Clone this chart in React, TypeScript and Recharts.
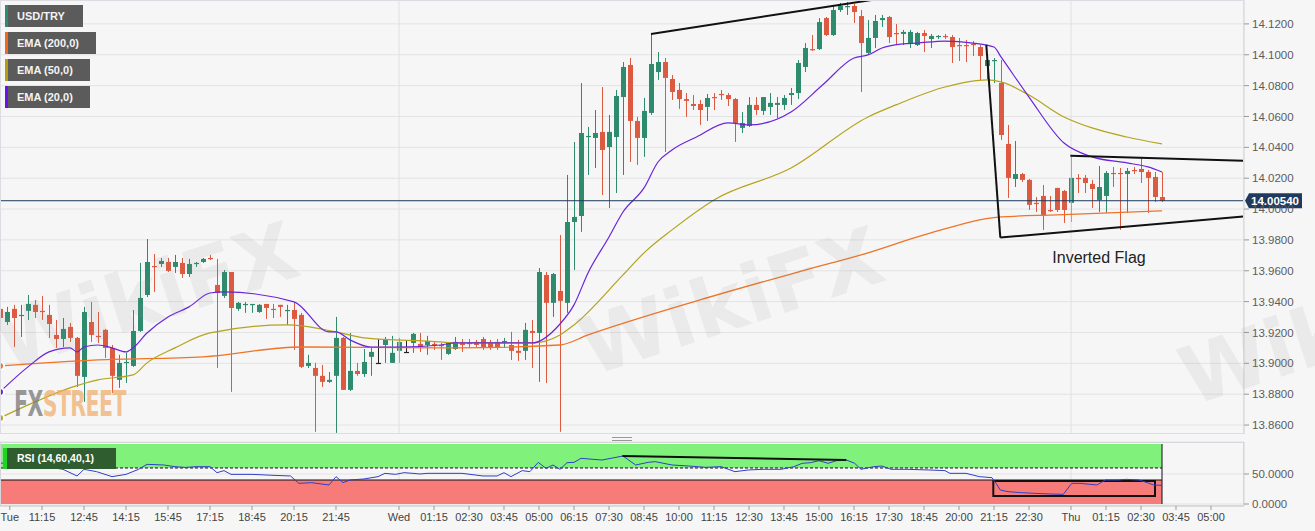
import React from "react";
import {
  Bar,
  CartesianGrid,
  ComposedChart,
  Line,
  ReferenceArea,
  ReferenceDot,
  ReferenceLine,
  XAxis,
  YAxis,
} from "recharts";

const FONT = "'Liberation Sans', Arial, sans-serif";
const UP = "#2f8b6e";
const DOWN = "#dc5a40";
const FLAT = "#222222";

// USD/TRY 15-minute candles, Tue 09:45 -> Thu 03:15 (index = candle number)
const opens = [
  13.9353, 13.9268, 13.9353, 13.9307, 13.934, 13.9379, 13.934, 13.9314, 13.9184, 13.9158,
  13.9236, 13.9165, 13.8912, 13.9268, 13.9178, 13.9217, 13.91, 13.8893, 13.9003, 13.8983,
  13.921, 13.9443, 13.9631, 13.9644, 13.9657, 13.9625, 13.9651, 13.9579, 13.9644, 13.9657,
  13.9683, 13.9508, 13.9437, 13.9592, 13.9353, 13.9379, 13.9379, 13.9333, 13.9385, 13.9353,
  13.9379, 13.934, 13.9346, 13.9314, 13.8983, 13.897, 13.8919, 13.888, 13.8919, 13.9165,
  13.8828, 13.8951, 13.8931, 13.9042, 13.9003, 13.9119, 13.9003, 13.9081, 13.9074, 13.9132,
  13.9126, 13.9119, 13.9126, 13.9119, 13.9061, 13.9093, 13.9132, 13.9132, 13.9139, 13.9158,
  13.9132, 13.9139, 13.9139, 13.9119, 13.9081, 13.9081, 13.921, 13.9197, 13.9573, 13.9392,
  13.9469, 13.9392, 13.9916, 13.9955, 14.0467, 14.0461, 14.05, 14.0402, 14.0467, 14.0726,
  14.0934, 14.0571, 14.0461, 14.0623, 14.0888, 14.0953, 14.0843, 14.0772, 14.0713, 14.0681,
  14.0681, 14.0662, 14.0726, 14.0746, 14.0739, 14.0713, 14.0526, 14.0539, 14.0675, 14.0636,
  14.0662, 14.0675, 14.0675, 14.0739, 14.0752, 14.0921, 14.1037, 14.1037, 14.1238, 14.1128,
  14.129, 14.131, 14.1316, 14.1251, 14.1012, 14.1109, 14.1225, 14.1245, 14.1141, 14.1135,
  14.1076, 14.1063, 14.1141, 14.1102, 14.1115, 14.1122, 14.1115, 14.1063, 14.1063, 14.107,
  14.105, 14.0927, 14.096, 14.0817, 14.0422, 14.0195, 14.0227, 14.0189, 14.004, 14.0085,
  13.9994, 14.0137, 14.0117, 14.004, 14.0202, 14.0202, 14.0163, 14.0059, 14.0085, 14.0234,
  14.0234, 14.0227, 14.0253, 14.026, 14.024, 14.0208, 14.0078,
];
const highs = [
  13.9379, 13.9366, 13.9379, 13.9379, 13.9443, 13.9411, 13.9437, 13.9379, 13.9281, 13.9294,
  13.9262, 13.9171, 13.9366, 13.9398, 13.9333, 13.9223, 13.9119, 13.9055, 13.9068, 13.9346,
  13.9651, 13.9806, 13.9709, 13.9683, 13.9683, 13.9703, 13.9683, 13.9677, 13.9657, 13.9683,
  13.9703, 13.9677, 13.9605, 13.9592, 13.9398, 13.9398, 13.9385, 13.9385, 13.9385, 13.9385,
  13.9379, 13.9379, 13.9392, 13.9327, 13.9055, 13.9003, 13.899, 13.8944, 13.9301, 13.9171,
  13.9197, 13.9003, 13.9093, 13.9106, 13.9158, 13.9171, 13.9178, 13.9165, 13.9145, 13.9197,
  13.9197, 13.9178, 13.9145, 13.9132, 13.9139, 13.9171, 13.9158, 13.9158, 13.9152, 13.9171,
  13.9152, 13.9158, 13.9165, 13.9204, 13.9152, 13.9262, 13.9281, 13.9618, 13.9592, 13.9586,
  13.9832, 14.0221, 14.0435, 14.0817, 14.0532, 14.0642, 14.0791, 14.061, 14.0772, 14.0953,
  14.0979, 14.0597, 14.072, 14.1135, 14.1018, 14.0979, 14.0869, 14.0817, 14.0752, 14.0739,
  14.0707, 14.0746, 14.0752, 14.0772, 14.0752, 14.072, 14.0629, 14.0726, 14.0726, 14.0726,
  14.0752, 14.0726, 14.0739, 14.0785, 14.0966, 14.1076, 14.1128, 14.1238, 14.1245, 14.1323,
  14.1336, 14.1342, 14.1329, 14.129, 14.1225, 14.1258, 14.1258, 14.1251, 14.1199, 14.1161,
  14.1161, 14.1148, 14.1161, 14.1135, 14.1128, 14.1135, 14.1128, 14.1109, 14.1096, 14.1089,
  14.1063, 14.0973, 14.0979, 14.0966, 14.0545, 14.0441, 14.0234, 14.0195, 14.0078, 14.0156,
  14.0085, 14.0137, 14.0124, 14.0338, 14.0227, 14.0221, 14.0189, 14.0279, 14.0247, 14.0273,
  14.0266, 14.0266, 14.0273, 14.0338, 14.0253, 14.024, 14.024,
];
const lows = [
  13.9152, 13.9249, 13.9106, 13.9171, 13.9281, 13.9294, 13.9281, 13.9165, 13.91, 13.9106,
  13.9139, 13.8847, 13.875, 13.9139, 13.9132, 13.9035, 13.8808, 13.8841, 13.8873, 13.8977,
  13.9204, 13.943, 13.9463, 13.9625, 13.9592, 13.9586, 13.9554, 13.956, 13.9625, 13.9651,
  13.967, 13.897, 13.9424, 13.8815, 13.934, 13.9327, 13.9327, 13.9327, 13.9288, 13.9294,
  13.9301, 13.9249, 13.9087, 13.897, 13.897, 13.8556, 13.8847, 13.8873, 13.8549, 13.8828,
  13.8821, 13.8919, 13.8912, 13.8919, 13.8996, 13.9003, 13.9003, 13.9003, 13.9068, 13.9068,
  13.9074, 13.9055, 13.9087, 13.9022, 13.9055, 13.9087, 13.9074, 13.91, 13.9106, 13.9087,
  13.9087, 13.9087, 13.91, 13.9022, 13.9016, 13.9022, 13.897, 13.888, 13.8873, 13.9301,
  13.8556, 13.9327, 13.9605, 13.9852, 14.0221, 14.0266, 14.0091, 14.0007, 14.0104, 14.0221,
  14.0305, 14.0286, 14.0338, 14.061, 14.0837, 14.037, 14.0707, 14.0649, 14.0597, 14.0642,
  14.0545, 14.0571, 14.0642, 14.0707, 14.0668, 14.0435, 14.0493, 14.0532, 14.061, 14.061,
  14.061, 14.059, 14.0642, 14.0675, 14.0713, 14.0888, 14.1025, 14.1031, 14.1122, 14.1122,
  14.1277, 14.1258, 14.1206, 14.0759, 14.0999, 14.1044, 14.118, 14.1076, 14.1063, 14.1063,
  14.1044, 14.1057, 14.1018, 14.1044, 14.1102, 14.1102, 14.0947, 14.096, 14.0953, 14.0992,
  14.0837, 14.0843, 14.0817, 14.0448, 14.0072, 14.0143, 14.0176, 13.9994, 13.9981, 13.9865,
  13.9981, 13.9981, 13.991, 13.9916, 14.0104, 14.0104, 14.0007, 13.9981, 13.9975, 14.0143,
  13.9865, 13.9975, 14.0227, 14.0169, 13.9975, 14.0046, 14.0046,
];
const closes = [
  13.9294, 13.9333, 13.9294, 13.9314, 13.9385, 13.9333, 13.9333, 13.9255, 13.9158, 13.9223,
  13.9165, 13.8919, 13.9333, 13.9184, 13.9171, 13.91, 13.8919, 13.9003, 13.9009, 13.921,
  13.9424, 13.9657, 13.9625, 13.9664, 13.9599, 13.9657, 13.9579, 13.9644, 13.9651, 13.9677,
  13.9677, 13.9456, 13.9592, 13.9359, 13.9392, 13.9385, 13.9385, 13.9379, 13.9359, 13.9346,
  13.9366, 13.9346, 13.9288, 13.8977, 13.9003, 13.8919, 13.888, 13.8893, 13.9165, 13.8828,
  13.8951, 13.8931, 13.9009, 13.9074, 13.9003, 13.9158, 13.9068, 13.9139, 13.9074, 13.9191,
  13.9106, 13.9145, 13.9119, 13.9113, 13.9132, 13.9139, 13.9119, 13.9126, 13.9119, 13.91,
  13.91, 13.91, 13.9145, 13.9081, 13.9068, 13.9217, 13.9197, 13.9592, 13.9392, 13.9579,
  13.9405, 13.9916, 13.9949, 14.0493, 14.0474, 14.0493, 14.0383, 14.05, 14.0733, 14.0921,
  14.0571, 14.0461, 14.0636, 14.094, 14.0953, 14.085, 14.0759, 14.0713, 14.0701, 14.0668,
  14.0642, 14.072, 14.072, 14.0739, 14.0713, 14.0558, 14.0558, 14.0675, 14.0642, 14.0726,
  14.0688, 14.0688, 14.072, 14.0752, 14.0947, 14.1044, 14.1031, 14.1212, 14.1128, 14.129,
  14.1316, 14.1316, 14.1277, 14.1076, 14.1109, 14.1219, 14.1238, 14.1115, 14.1135, 14.1148,
  14.1148, 14.1141, 14.1122, 14.1122, 14.1122, 14.1115, 14.105, 14.1057, 14.1057, 14.1063,
  14.0992, 14.0966, 14.0966, 14.048, 14.0202, 14.0227, 14.0189, 14.0027, 14.0033, 13.9962,
  13.9988, 13.9994, 13.9994, 14.0202, 14.0195, 14.0169, 14.013, 14.0143, 14.0234, 14.0227,
  14.0227, 14.0247, 14.0247, 14.024, 14.0202, 14.0078, 14.0053,
];

// moving averages: [candle index, value]
const ema20 = [
  [0, 13.8815], [4, 13.8977], [7, 13.9074], [10, 13.91], [11, 13.9074], [12, 13.9106], [14, 13.9119],
  [16, 13.91], [18, 13.9074], [19, 13.91], [21, 13.9197], [24, 13.9301], [27, 13.9366], [30, 13.9456],
  [32, 13.9463], [42, 13.9398], [47, 13.9204], [48, 13.9204], [50, 13.9152], [53, 13.9106], [57, 13.9106],
  [63, 13.9119], [65, 13.9132], [76, 13.9132], [80, 13.9255], [82, 13.9379], [84, 13.9586], [87, 13.9819],
  [89, 13.9981], [92, 14.0137], [94, 14.0305], [96, 14.0383], [99.5, 14.0467], [104, 14.0558], [107, 14.0545],
  [113, 14.0629], [117.5, 14.0804], [122, 14.0979], [124, 14.0999], [126, 14.1044], [129, 14.107],
  [131, 14.1076], [135, 14.1089], [139, 14.1076], [142, 14.105], [143, 14.0986], [147, 14.0726],
  [152, 14.0428], [156, 14.0338], [161, 14.0299], [164, 14.0273], [166, 14.024],
];
const ema50 = [
  [0, 13.8646], [5, 13.875], [10, 13.8841], [14, 13.8893], [19, 13.8925], [21, 13.9003], [25, 13.91],
  [30, 13.9197], [41, 13.9249], [48, 13.9204], [52, 13.9165], [63, 13.9139], [65, 13.9132], [76, 13.9132],
  [80, 13.9184], [82, 13.9249], [89, 13.9573], [92, 13.9716], [96, 13.9865], [102, 14.0059], [113, 14.0266],
  [124, 14.0597], [128, 14.0675], [135, 14.0791], [141, 14.0837], [143, 14.0824], [147, 14.0739],
  [152, 14.0597], [156, 14.0526], [161, 14.0467], [166, 14.0422],
];
const ema200 = [
  [0, 13.8983], [14, 13.9022], [29, 13.9042], [43, 13.9106], [63, 13.91], [65, 13.91], [80, 13.9119],
  [84, 13.9184], [100, 13.9411], [114, 13.9592], [124, 13.9716], [132, 13.9832], [143, 13.9949],
  [151, 13.9962], [166, 13.9988],
];

// RSI (14): [candle index, value]
const rsi = [
  [0, 67.8], [1.2, 68.9], [3.6, 67.8], [6, 66.1], [6.6, 62.2], [9, 57.8], [11, 46.7], [12, 57.8], [13.8, 53.9],
  [16, 45.6], [18, 49.4], [19.8, 57.8], [21, 66.1], [23.4, 65], [25, 62.2], [26.5, 61], [28, 62.2], [30, 62.2],
  [31, 52.2], [32, 55.6], [33, 49.4], [36, 49.4], [39, 47.8], [41.5, 46.7], [42.7, 34.4], [44.5, 35.6], [47, 31.7],
  [48, 45.6], [49, 35.6], [50, 40], [52, 41.7], [54, 45.6], [55, 51.1], [56.5, 49.4], [57.7, 52.2], [59, 51.1],
  [60, 50], [61, 51.1], [66, 51.1], [69, 46.7], [71, 46.7], [72, 52.2], [73, 45.6], [74.6, 55.6], [75.7, 53.9],
  [76.9, 69.4], [78, 59.4], [79, 65], [80, 57.8], [81, 68.9], [82, 69.4], [83, 76.1], [86, 73.3], [89, 80],
  [90.8, 65], [92.6, 69.4], [93.6, 70.6], [96, 65], [98.4, 63.3], [100.8, 61.1], [103, 62.2], [105, 53.9],
  [106.9, 56.7], [109, 57.8], [111.6, 57.8], [113.4, 62.2], [114.6, 67.8], [115.8, 68.9], [117, 72.2],
  [118.3, 67.8], [119.5, 72.2], [120.9, 73.3], [122.1, 67.8], [123, 57.8], [124.8, 62.2], [126, 63.3],
  [127.3, 57.8], [129.6, 57.8], [132.7, 56.7], [135, 55.6], [135.7, 51.1], [138, 51.1], [139.9, 45.6],
  [141.7, 43.9], [142.3, 34.4], [142.9, 23.3], [144, 20.6], [145.9, 18.9], [147.7, 17.8], [150, 16.7],
  [151.9, 16.1], [153.1, 34.4], [154.3, 34.4], [156.7, 31.7], [157.9, 40], [159.7, 40], [160.9, 41.1],
  [162.7, 40], [163.9, 35.6], [164.8, 31.7], [166, 31],
];

const priceTicks = [13.86, 13.88, 13.9, 13.92, 13.94, 13.96, 13.98, 14.0, 14.02, 14.04, 14.06, 14.08, 14.1, 14.12];
const lastPrice = 14.0054;
const dayStarts = [57, 153];
const xTickIdx = [
  1.4, 6, 12, 18, 24, 30, 36, 42, 48, 57, 62, 67, 72, 77, 82, 87, 92, 97, 102, 107, 112, 117, 122, 127, 132,
  137, 142, 147, 153, 158, 163, 168, 173,
];
const xTickText = [
  "Tue", "11:15", "12:45", "14:15", "15:45", "17:15", "18:45", "20:15", "21:45", "Wed", "01:15", "02:30",
  "03:45", "05:00", "06:15", "07:30", "08:45", "10:00", "11:15", "12:30", "13:45", "15:00", "16:15", "17:30",
  "18:45", "20:00", "21:15", "22:30", "Thu", "01:15", "02:30", "03:45", "05:00",
];

// drawn trend lines, [index, price]
const topLine = [[93, 14.1135], [124.5, 14.1355]];
const flagPole = [[140.9, 14.1064], [142.9, 13.9815]];
const flagLow = [[142.9, 13.9815], [177.6, 13.9951]];
const flagHigh = [[152.9, 14.0346], [177.6, 14.0313]];
const rsiTrend = [[88.9, 80], [120.9, 73.3]];
const rsiBox = [[141.9, 38.3], [165, 13.3]];

const X_MAX = 1244 / 7;
const lastIdx = opens.length - 1;

const candles = opens.map((o, i) => ({
  i,
  range: [lows[i], highs[i]],
  o,
  h: highs[i],
  l: lows[i],
  c: closes[i],
}));
const toRows = (pts: number[][]) => pts.map(([i, v]) => ({ i, v }));
const seg = (pts: number[][]) => pts.map(([x, y]) => ({ x, y }));

function Candle(props: any) {
  const { x, y, width, height, payload } = props;
  const { o, h, l, c } = payload;
  const top = Math.min(y, y + height);
  const span = Math.abs(height);
  const py = (v: number) => (h === l ? top : top + ((h - v) / (h - l)) * span);
  const cx = Math.round(x + width / 2) + 0.5;
  const color = c > o ? UP : c < o ? DOWN : FLAT;
  const bTop = py(Math.max(o, c));
  const bBot = py(Math.min(o, c));
  return (
    <g>
      <line x1={cx} x2={cx} y1={top} y2={top + span} stroke={color} strokeWidth={1} />
      <rect x={cx - 2.5} y={bTop} width={5} height={Math.max(1.2, bBot - bTop)} fill={color} />
    </g>
  );
}

function PriceTag(props: any) {
  const vb = props.viewBox || {};
  const x0 = vb.x + vb.width;
  const y0 = vb.y;
  return (
    <g>
      <path
        d={`M${x0 + 1} ${y0} L${x0 + 5} ${y0 - 7.5} L${x0 + 58} ${y0 - 7.5} L${x0 + 58} ${y0 + 7.5} L${x0 + 5} ${y0 + 7.5} Z`}
        fill="#1f3a5c"
      />
      <text x={x0 + 31} y={y0 + 4} textAnchor="middle" fill="#fff" fontSize={11.5} fontWeight="bold" fontFamily={FONT}>
        {lastPrice.toFixed(5)}
      </text>
    </g>
  );
}

function Tag({ top, width, color, text }: { top: number; width: number; color: string; text: string }) {
  return (
    <div
      style={{
        position: "absolute",
        left: 5,
        top,
        width,
        height: 22,
        background: "#5b5b5b",
        borderLeft: `3px solid ${color}`,
        color: "#f4f4f4",
        fontSize: 11,
        fontWeight: "bold",
        lineHeight: "22px",
        paddingLeft: 9,
        boxSizing: "border-box",
        fontFamily: FONT,
      }}
    >
      {text}
    </div>
  );
}

const wm: React.CSSProperties = {
  position: "absolute",
  fontFamily: "'DejaVu Sans', sans-serif",
  fontWeight: "bold",
  fontSize: 80,
  color: "rgba(150,140,140,0.11)",
  transform: "rotate(-18deg)",
  pointerEvents: "none",
  whiteSpace: "nowrap",
};

export default function App() {
  return (
    <div
      style={{
        position: "absolute",
        left: 0,
        top: 0,
        width: 1315,
        height: 531,
        background: "#f6f6f7",
        overflow: "hidden",
        fontFamily: FONT,
      }}
    >
      <ComposedChart
        width={1315}
        height={434}
        data={candles}
        margin={{ top: 0, right: 0, bottom: 0, left: 0 }}
        style={{ position: "absolute", left: 0, top: 0 }}
      >
        <CartesianGrid vertical={false} stroke="#e3e3e5" />
        <XAxis dataKey="i" type="number" domain={[0, X_MAX]} allowDataOverflow hide />
        <YAxis
          orientation="right"
          width={71}
          domain={[13.8542, 14.1355]}
          allowDataOverflow
          ticks={priceTicks}
          interval={0}
          tickFormatter={(v: number) => v.toFixed(4)}
          tick={{ fill: "#5c5c5c", fontSize: 11.5, fontFamily: FONT }}
          tickSize={5}
          tickMargin={3}
          axisLine={{ stroke: "#cdd1d8" }}
          tickLine={{ stroke: "#999" }}
        />
        {dayStarts.map((d) => (
          <ReferenceLine key={d} x={d} stroke="#e0e0e3" />
        ))}
        <Bar dataKey="range" barSize={5} shape={<Candle />} isAnimationActive={false} />
        <Line data={toRows(ema200)} dataKey="v" type="monotone" stroke="#ef7426" strokeWidth={1.3} dot={false} isAnimationActive={false} />
        <Line data={toRows(ema50)} dataKey="v" type="monotone" stroke="#b4a41c" strokeWidth={1.2} dot={false} isAnimationActive={false} />
        <Line data={toRows(ema20)} dataKey="v" type="monotone" stroke="#6a24dc" strokeWidth={1.2} dot={false} isAnimationActive={false} />
        <ReferenceLine y={lastPrice} stroke="#1f3a5c" strokeWidth={1} label={(p: any) => <PriceTag {...p} />} />
        {[topLine, flagPole, flagLow, flagHigh].map((l, k) => (
          <ReferenceLine key={k} segment={seg(l)} stroke="#111" strokeWidth={2} ifOverflow="visible" />
        ))}
        <ReferenceDot
          x={157}
          y={13.9686}
          r={0}
          label={{ value: "Inverted Flag", position: "center", fill: "#222", fontSize: 16, fontFamily: FONT }}
        />
      </ComposedChart>

      <div
        style={{ position: "absolute", left: 0, top: 0, width: 1244, height: 434, border: "1px solid #dcdde2", boxSizing: "border-box", pointerEvents: "none" }}
      />
      <div
        style={{ position: "absolute", left: 612, top: 437, width: 20, height: 2, borderTop: "1px solid #999", borderBottom: "1px solid #999" }}
      />

      <ComposedChart
        width={1315}
        height={93}
        data={toRows(rsi)}
        margin={{ top: 4, right: 0, bottom: 0, left: 0 }}
        style={{ position: "absolute", left: 0, top: 438 }}
      >
        <CartesianGrid vertical={false} stroke="#e3e3e5" />
        <XAxis
          dataKey="i"
          type="number"
          domain={[0, X_MAX]}
          allowDataOverflow
          ticks={xTickIdx}
          interval={0}
          height={25}
          tickFormatter={(v: number) => xTickText[xTickIdx.indexOf(v)]}
          tick={{ fill: "#444", fontSize: 11, fontFamily: FONT }}
          tickSize={4}
          tickMargin={3}
          axisLine={{ stroke: "#ccc" }}
          tickLine={{ stroke: "#999" }}
        />
        <YAxis
          orientation="right"
          width={71}
          domain={[-3.33, 103.33]}
          allowDataOverflow
          ticks={[0, 50]}
          interval={0}
          tickFormatter={(v: number) => v.toFixed(4)}
          tick={{ fill: "#5c5c5c", fontSize: 11.5, fontFamily: FONT }}
          tickSize={5}
          tickMargin={3}
          axisLine={{ stroke: "#cdd1d8" }}
          tickLine={{ stroke: "#999" }}
        />
        {dayStarts.map((d) => (
          <ReferenceLine key={d} segment={[{ x: d, y: 40 }, { x: d, y: 60 }]} stroke="#e0e0e3" />
        ))}
        <ReferenceArea x1={0} x2={lastIdx} y1={60} y2={100} fill="#80f27c" fillOpacity={1} />
        <ReferenceArea x1={0} x2={lastIdx} y1={0} y2={40} fill="#f77b78" fillOpacity={1} />
        <ReferenceLine segment={[{ x: 0, y: 60 }, { x: lastIdx, y: 60 }]} stroke="#111" strokeDasharray="3 2" />
        <ReferenceLine segment={[{ x: 0, y: 40 }, { x: lastIdx, y: 40 }]} stroke="#111" />
        <ReferenceLine segment={[{ x: lastIdx, y: 0 }, { x: lastIdx, y: 100 }]} stroke="#111" />
        <Line dataKey="v" type="linear" stroke="#2f3fc8" strokeWidth={1} dot={false} isAnimationActive={false} />
        <ReferenceLine segment={seg(rsiTrend)} stroke="#111" strokeWidth={2} />
        <ReferenceArea
          x1={rsiBox[0][0]}
          x2={rsiBox[1][0]}
          y1={rsiBox[1][1]}
          y2={rsiBox[0][1]}
          fill="none"
          stroke="#111"
          strokeWidth={2}
        />
      </ComposedChart>
      <div
        style={{ position: "absolute", left: 0, top: 442, width: 1244, height: 64, border: "1px solid #d6d7dc", boxSizing: "border-box", pointerEvents: "none" }}
      />

      {/* watermarks */}
      <div style={{ ...wm, left: -10, top: 250 }}>WikiFX</div>
      <div style={{ ...wm, left: 575, top: 255 }}>WikiFX</div>
      <div style={{ ...wm, left: 1175, top: 285 }}>WikiFX</div>
      <div
        style={{
          position: "absolute",
          left: 14,
          top: 383,
          fontFamily: "'DejaVu Sans', sans-serif",
          fontWeight: "bold",
          fontSize: 36,
          transform: "scaleX(0.57)",
          transformOrigin: "left top",
          whiteSpace: "nowrap",
          letterSpacing: -1,
        }}
      >
        <span style={{ color: "rgba(120,120,120,0.75)" }}>FX</span>
        <span style={{ color: "rgba(240,170,100,0.7)" }}>STREET</span>
      </div>

      <Tag top={5} width={78} color="#2f8b6e" text="USD/TRY" />
      <Tag top={32} width={91} color="#ee6a1c" text="EMA (200,0)" />
      <Tag top={59} width={85} color="#b0a010" text="EMA (50,0)" />
      <Tag top={86} width={85} color="#6a12e8" text="EMA (20,0)" />

      <div
        style={{
          position: "absolute",
          left: 3,
          top: 448,
          width: 113,
          height: 21,
          background: "#2f5d2f",
          borderLeft: "4px solid #22d422",
          boxSizing: "border-box",
          color: "#fff",
          fontSize: 10.5,
          fontWeight: "bold",
          lineHeight: "21px",
          paddingLeft: 10,
          fontFamily: FONT,
        }}
      >
        RSI (14,60,40,1)
      </div>
    </div>
  );
}
